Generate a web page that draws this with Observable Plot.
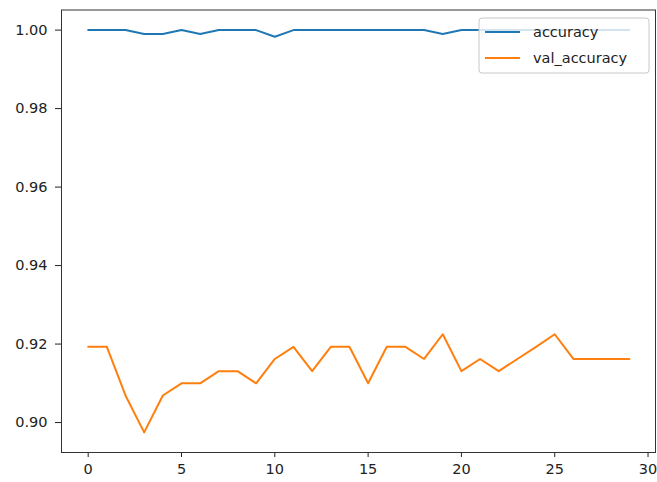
<!DOCTYPE html>
<html>
<head>
<meta charset="utf-8">
<script src="https://cdn.jsdelivr.net/npm/d3@7"></script>
<script src="https://cdn.jsdelivr.net/npm/@observablehq/plot@0.6"></script>
<style>
  html, body { margin: 0; padding: 0; background: #fff; }
  #chart { width: 657px; height: 482px; }
</style>
</head>
<body>
<div id="chart"></div>
<script>
const epochs = [0,1,2,3,4,5,6,7,8,9,10,11,12,13,14,15,16,17,18,19,20,21,22,23,24,25,26,27,28,29];
const accuracy = [1,1,1,0.999,0.999,1,0.999,1,1,1,0.9983,1,1,1,1,1,1,1,1,0.999,1,1,1,1,1,1,1,1,1,1];
const valAccuracy = [0.9193,0.9193,0.9069,0.8975,0.9069,0.9100,0.9100,0.9131,0.9131,0.9100,0.9162,0.9193,0.9131,0.9193,0.9193,0.9100,0.9193,0.9193,0.9162,0.9225,0.9131,0.9162,0.9131,0.9162,0.9193,0.9225,0.9162,0.9162,0.9162,0.9162];
const seriesNames = ["accuracy", "val_accuracy"];
const seriesColors = ["#1f77b4", "#ff7f0e"];
const xTicks = [0,5,10,15,20,25,30];
const yTicks = [0.90,0.92,0.94,0.96,0.98,1.00];

(function () {
  const rows = [];
  epochs.forEach((e, i) => {
    rows.push({epoch: e, value: accuracy[i], series: seriesNames[0]});
    rows.push({epoch: e, value: valAccuracy[i], series: seriesNames[1]});
  });

  const plot = Plot.plot({
    width: 657,
    height: 482,
    marginLeft: 61,
    marginRight: 2,
    marginTop: 9.5,
    marginBottom: 30,
    style: {fontFamily: "DejaVu Sans", fontSize: "14.5px", color: "#222", background: "#fff", overflow: "visible"},
    x: {domain: [-1.43, 30.4], ticks: xTicks},
    y: {domain: [0.89237, 1.00512], ticks: yTicks},
    color: {domain: seriesNames, range: seriesColors},
    marks: [
      Plot.axisX({ticks: xTicks, tickSize: 5, tickPadding: 6, label: null, tickFormat: d => String(d)}),
      Plot.axisY({ticks: yTicks, tickSize: 6, tickPadding: 8, label: null, tickFormat: d3.format(".2f")}),
      Plot.line(rows, {x: "epoch", y: "value", z: "series", stroke: "series", strokeWidth: 2, strokeLinejoin: "round"}),
      Plot.frame({stroke: "#333", strokeWidth: 1})
    ]
  });

  // legend in the upper right, inside the axes (matplotlib style)
  const svg = d3.select(plot);
  const xr = plot.scale("x").range;
  const yr = plot.scale("y").range;
  const frameRight = Math.max(...xr), frameTop = Math.min(...yr);
  const boxW = 170, boxH = 55;
  const bx = frameRight - 6 - boxW, by = frameTop + 8.5;
  const g = svg.append("g").attr("class", "legend").attr("text-anchor", "start");
  g.append("rect").attr("x", bx).attr("y", by).attr("width", boxW).attr("height", boxH)
    .attr("rx", 3).attr("fill", "#fff").attr("fill-opacity", 0.8).attr("stroke", "#c8c8c8").attr("stroke-width", 1);
  seriesNames.forEach((name, i) => {
    const cy = by + 14 + i * 26;
    g.append("line").attr("x1", bx + 6).attr("x2", bx + 41).attr("y1", cy).attr("y2", cy)
      .attr("stroke", seriesColors[i]).attr("stroke-width", 2);
    g.append("text").attr("x", bx + 54).attr("y", cy).attr("dy", "0.35em").attr("text-anchor", "start")
      .attr("fill", "#222").attr("font-family", "DejaVu Sans").attr("font-size", "14.5px").text(name);
  });

  document.getElementById("chart").appendChild(plot);
})();
</script>
</body>
</html>
